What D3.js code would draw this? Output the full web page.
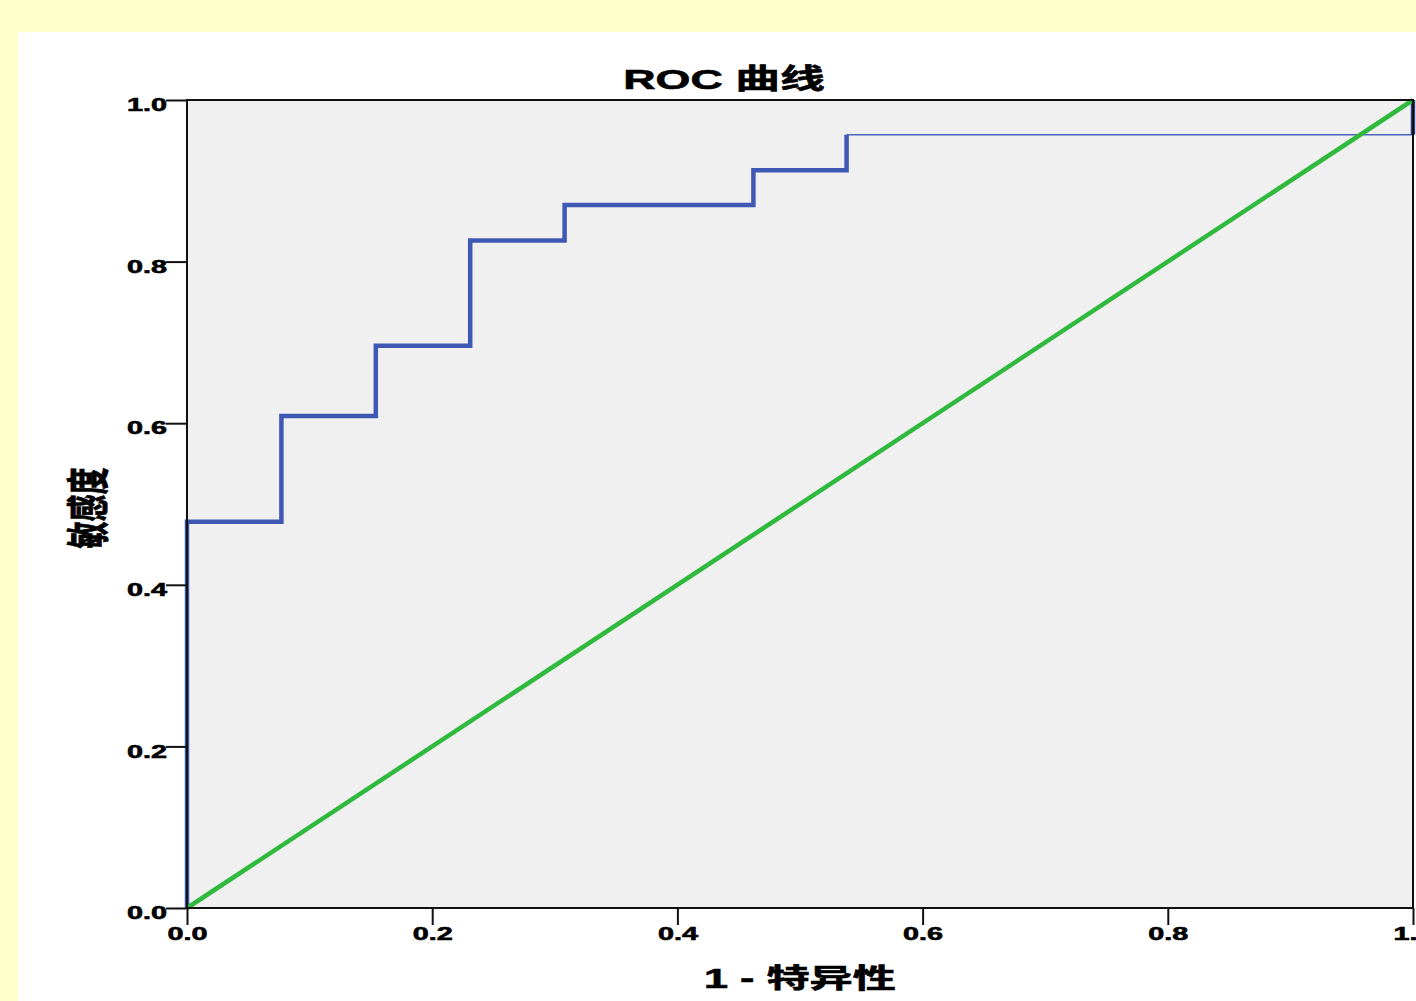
<!DOCTYPE html>
<html>
<head>
<meta charset="utf-8">
<script src="https://cdn.jsdelivr.net/npm/d3@7"></script>
<style>
  body { margin: 0; background: #ffffcc; }
  svg { display: block; }
  text { font-family: "Liberation Sans", Arial, "Noto Sans CJK SC", sans-serif; font-weight: bold; fill: #000; stroke: #000; stroke-width: 0.6px; }
</style>
</head>
<body>
<script>
// ROC points (1 - specificity, sensitivity)
let fpr = [0, 0, 0.077, 0.154, 0.231, 0.308, 0.462, 0.538, 1];
let tpr = [0, 0.478, 0.609, 0.696, 0.826, 0.870, 0.913, 0.957, 1];
let refLine = [0, 1];
let ticks = [0, 0.2, 0.4, 0.6, 0.8, 1.0];

let title = 'ROC 曲线', xTitle = '1 - 特异性', yTitle = '敏感度';

let width = 1416, height = 1001;
let margin = {top: 100, bottom: 93, left: 187, right: 3};
let stretch = 1.6; // the original picture is stretched sideways

let svg = d3.select('body').append('svg').attr('width', width).attr('height', height);

svg.append('rect').attr('x', 0).attr('y', 0).attr('width', width).attr('height', height).attr('fill', '#ffffcc');
svg.append('rect').attr('x', 18).attr('y', 32).attr('width', width).attr('height', height).attr('fill', '#ffffff');

let xScale = d3.scaleLinear().domain([0, 1]).range([margin.left, width - margin.right]);
let yScale = d3.scaleLinear().domain([0, 1]).range([height - margin.bottom, margin.top]);

svg.append('rect')
  .attr('x', xScale(0)).attr('y', yScale(1))
  .attr('width', xScale(1) - xScale(0)).attr('height', yScale(0) - yScale(1))
  .attr('fill', '#f0f0f0');

let pts = fpr.map((d, i) => [d, tpr[i]]);
let n = pts.length;

let step = d3.line().x(d => xScale(d[0])).y(d => yScale(d[1])).curve(d3.curveStepAfter);

// thick steps up to the last corner
svg.append('path').attr('d', step(pts.slice(0, n - 1)))
  .attr('fill', 'none').attr('stroke', '#3f58b3').attr('stroke-width', 4.5);
// thin last horizontal run
svg.append('line')
  .attr('x1', xScale(pts[n - 2][0])).attr('y1', yScale(pts[n - 2][1]))
  .attr('x2', xScale(pts[n - 1][0])).attr('y2', yScale(pts[n - 2][1]))
  .attr('stroke', '#4a63bb').attr('stroke-width', 1.5);
svg.append('line')
  .attr('x1', xScale(pts[n - 1][0])).attr('y1', yScale(pts[n - 2][1]))
  .attr('x2', xScale(pts[n - 1][0])).attr('y2', yScale(pts[n - 1][1]))
  .attr('stroke', '#2a3f8f').attr('stroke-width', 4.5);

// reference diagonal
svg.append('line')
  .attr('x1', xScale(refLine[0])).attr('y1', yScale(refLine[0]))
  .attr('x2', xScale(refLine[1])).attr('y2', yScale(refLine[1]))
  .attr('stroke', '#2fba3e').attr('stroke-width', 4.5);

// frame
svg.append('rect')
  .attr('x', xScale(0)).attr('y', yScale(1))
  .attr('width', xScale(1) - xScale(0)).attr('height', yScale(0) - yScale(1))
  .attr('fill', 'none').attr('stroke', '#111').attr('stroke-width', 2);

let yAxis = svg.append('g').attr('transform', `translate(${margin.left},0)`)
  .call(d3.axisLeft(yScale).tickValues(ticks).tickFormat(d3.format('.1f')).tickSize(21).tickSizeOuter(0));
let xAxis = svg.append('g').attr('transform', `translate(0,${height - margin.bottom})`)
  .call(d3.axisBottom(xScale).tickValues(ticks).tickFormat(d3.format('.1f')).tickSize(17).tickSizeOuter(0));

[yAxis, xAxis].forEach(a => {
  a.select('.domain').remove();
  a.selectAll('line').attr('stroke', '#111').attr('stroke-width', 2);
  a.selectAll('text').attr('font-size', 18).attr('font-family', null).attr('fill', '#000');
});
yAxis.selectAll('text').attr('x', 0).attr('dy', '0.32em')
  .attr('transform', `translate(-20,5) scale(${stretch},1)`);
xAxis.selectAll('text').attr('y', 0).attr('dy', '0.71em')
  .attr('transform', `translate(0,19) scale(${stretch},1)`);

svg.append('text').attr('transform', `translate(724,89) scale(${stretch},1)`)
  .attr('text-anchor', 'middle').attr('font-size', 28).text(title);

svg.append('text').attr('transform', `translate(800,988) scale(${stretch},1)`)
  .attr('text-anchor', 'middle').attr('font-size', 27).text(xTitle);

svg.append('text').attr('transform', `translate(104,508) scale(${stretch},1) rotate(-90)`)
  .attr('text-anchor', 'middle').attr('font-size', 27).text(yTitle);
</script>
</body>
</html>
